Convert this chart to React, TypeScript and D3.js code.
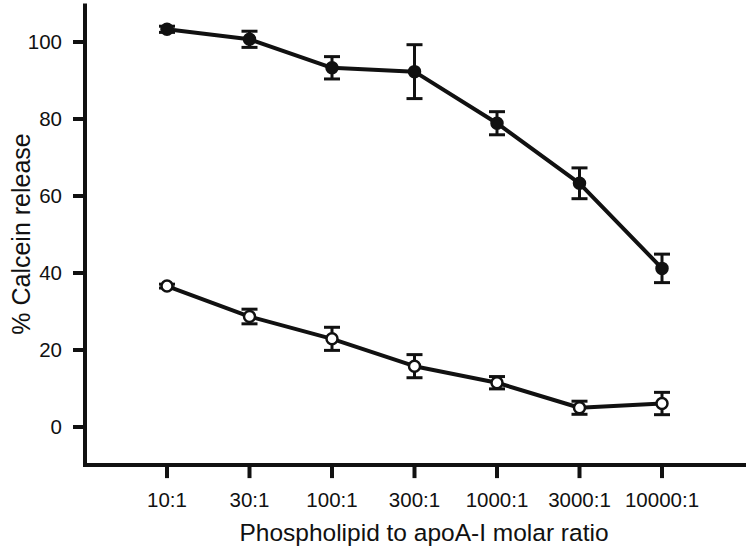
import React from "react";
import * as d3 from "d3";
import { useEffect, useRef } from "react";

// phospholipid : apoA-I molar ratio categories
const ratios = ["10:1", "30:1", "100:1", "300:1", "1000:1", "3000:1", "10000:1"];

// filled circles
const filledMean = [103.3, 100.7, 93.3, 92.3, 78.9, 63.3, 41.2];
const filledErr = [0.8, 2.1, 2.9, 7.0, 3.0, 4.0, 3.7];

// open circles
const openMean = [36.6, 28.7, 22.9, 15.8, 11.5, 5.0, 6.1];
const openErr = [0.5, 1.9, 3.0, 3.0, 1.6, 1.7, 2.9];

const yTicks = [0, 20, 40, 60, 80, 100];

function CalceinChart() {
  const width = 750;
  const height = 551;
  const svgRef = useRef<SVGSVGElement>(null);

  useEffect(() => {
    const svg = d3.select(svgRef.current);
    svg.selectAll("*").remove();

    const ink = "#111";
    const font = "'Liberation Sans', Arial, Helvetica, sans-serif";

    // scales
    const xScale = d3.scalePoint().domain(ratios).range([167, 662]);
    const yScale = d3.scaleLinear().domain([0, 100]).range([427, 42]);

    const axisLeftX = 85;
    const axisBottomY = yScale(-9.9);
    const axisTopY = yScale(110);

    // axis lines
    svg
      .append("line")
      .attr("x1", axisLeftX)
      .attr("x2", axisLeftX)
      .attr("y1", axisTopY)
      .attr("y2", axisBottomY + 2)
      .attr("stroke", ink)
      .attr("stroke-width", 4);
    svg
      .append("line")
      .attr("x1", axisLeftX - 2)
      .attr("x2", 746)
      .attr("y1", axisBottomY)
      .attr("y2", axisBottomY)
      .attr("stroke", ink)
      .attr("stroke-width", 4);

    // y ticks
    const yAxis = svg.append("g");
    yAxis
      .selectAll(".ytick")
      .data(yTicks)
      .enter()
      .append("line")
      .attr("x1", axisLeftX - 12)
      .attr("x2", axisLeftX)
      .attr("y1", (d) => yScale(d))
      .attr("y2", (d) => yScale(d))
      .attr("stroke", ink)
      .attr("stroke-width", 4);
    yAxis
      .selectAll(".ylabel")
      .data(yTicks)
      .enter()
      .append("text")
      .attr("x", 62)
      .attr("y", (d) => yScale(d))
      .attr("dy", "0.36em")
      .attr("text-anchor", "end")
      .attr("font-family", font)
      .attr("font-size", 20.5)
      .attr("fill", ink)
      .text((d) => d);

    // x ticks
    const xAxis = svg.append("g");
    xAxis
      .selectAll(".xtick")
      .data(ratios)
      .enter()
      .append("line")
      .attr("x1", (d) => xScale(d)!)
      .attr("x2", (d) => xScale(d)!)
      .attr("y1", axisBottomY)
      .attr("y2", axisBottomY + 13)
      .attr("stroke", ink)
      .attr("stroke-width", 4);
    xAxis
      .selectAll(".xlabel")
      .data(ratios)
      .enter()
      .append("text")
      .attr("x", (d) => xScale(d)!)
      .attr("y", 507)
      .attr("text-anchor", "middle")
      .attr("font-family", font)
      .attr("font-size", 20.5)
      .attr("fill", ink)
      .text((d) => d);

    // axis titles
    svg
      .append("text")
      .attr("x", 424)
      .attr("y", 541)
      .attr("text-anchor", "middle")
      .attr("font-family", font)
      .attr("font-size", 24.5)
      .attr("fill", ink)
      .text("Phospholipid to apoA-I molar ratio");
    svg
      .append("text")
      .attr("transform", "translate(30, 234) rotate(-90)")
      .attr("text-anchor", "middle")
      .attr("font-family", font)
      .attr("font-size", 25)
      .attr("fill", ink)
      .text("% Calcein release");

    const series = [
      { mean: filledMean, err: filledErr, fill: ink },
      { mean: openMean, err: openErr, fill: "#fff" },
    ];

    const line = d3
      .line<number>()
      .x((_, i) => xScale(ratios[i])!)
      .y((d) => yScale(d));

    series.forEach((s) => {
      const g = svg.append("g");

      g.append("path")
        .attr("d", line(s.mean))
        .attr("fill", "none")
        .attr("stroke", ink)
        .attr("stroke-width", 4)
        .attr("stroke-linejoin", "round");

      // error bars
      const bars = g
        .selectAll(".err")
        .data(s.mean)
        .enter()
        .append("g")
        .attr("transform", (_, i) => `translate(${xScale(ratios[i])},0)`);
      bars
        .append("line")
        .attr("y1", (d, i) => yScale(d + s.err[i]))
        .attr("y2", (d, i) => yScale(d - s.err[i]))
        .attr("stroke", ink)
        .attr("stroke-width", 3);
      bars
        .append("line")
        .attr("x1", -8)
        .attr("x2", 8)
        .attr("y1", (d, i) => yScale(d + s.err[i]))
        .attr("y2", (d, i) => yScale(d + s.err[i]))
        .attr("stroke", ink)
        .attr("stroke-width", 3);
      bars
        .append("line")
        .attr("x1", -8)
        .attr("x2", 8)
        .attr("y1", (d, i) => yScale(d - s.err[i]))
        .attr("y2", (d, i) => yScale(d - s.err[i]))
        .attr("stroke", ink)
        .attr("stroke-width", 3);

      // markers
      g.selectAll(".pt")
        .data(s.mean)
        .enter()
        .append("circle")
        .attr("cx", (_, i) => xScale(ratios[i])!)
        .attr("cy", (d) => yScale(d))
        .attr("r", 5.5)
        .attr("fill", s.fill)
        .attr("stroke", ink)
        .attr("stroke-width", 2.5);
    });
  }, []);

  return (
    <svg
      ref={svgRef}
      width={width}
      height={height}
      style={{ position: "absolute", left: 0, top: 0, background: "#fff" }}
    ></svg>
  );
}

export default function App() {
  return <CalceinChart />;
}
